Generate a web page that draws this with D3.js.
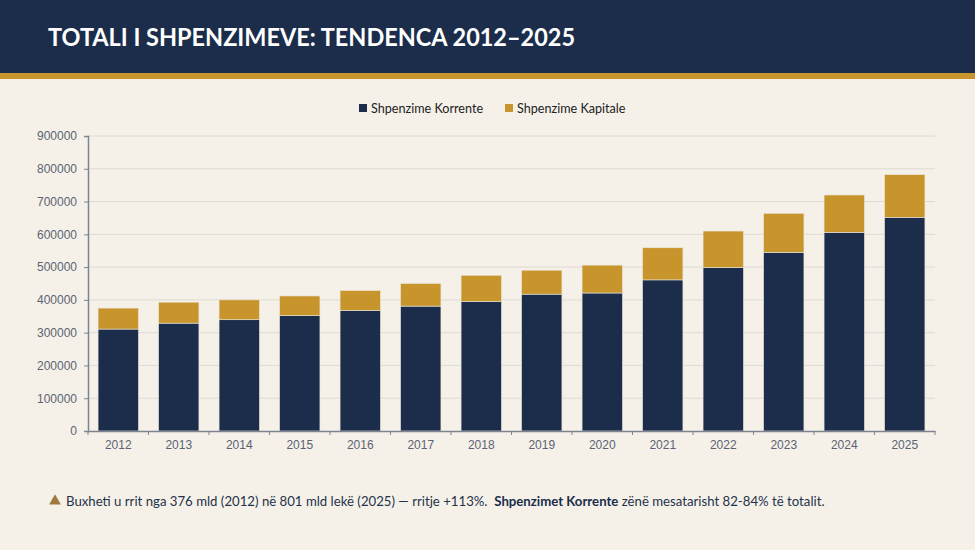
<!DOCTYPE html>
<html>
<head>
<meta charset="utf-8">
<script src="https://cdn.jsdelivr.net/npm/d3@7"></script>
<style>
  body { margin: 0; background: #f5f1e9; }
  svg { display: block; }
</style>
</head>
<body>
<div class="canvas1"></div>
<script>
// data
const years = ["2012","2013","2014","2015","2016","2017","2018","2019","2020","2021","2022","2023","2024","2025"];
const korrente = [311000, 329000, 339500, 352000, 368000, 381000, 395000, 417500, 421000, 461000, 498500, 545000, 606000, 652000];
const kapitale = [64000, 64000, 60500, 60000, 60500, 69000, 80000, 73000, 85000, 98000, 111500, 119000, 114000, 130000];
const yTicks = [0, 100000, 200000, 300000, 400000, 500000, 600000, 700000, 800000, 900000];
const seriesNames = ["Shpenzime Korrente", "Shpenzime Kapitale"];

const W = 975, H = 550;
const margin = { top: 136, right: 40, bottom: 119, left: 88 };
const width = W - margin.left - margin.right;
const height = H - margin.top - margin.bottom;

const navy = "#1b2d4a";
const gold = "#c8952c";

const svg = d3.select(".canvas1").append("svg")
    .attr("width", W)
    .attr("height", H);

svg.append("rect").attr("width", W).attr("height", H).attr("fill", "#f5f1e9");

// header band
svg.append("rect").attr("width", W).attr("height", 73).attr("fill", navy);
svg.append("rect").attr("y", 73).attr("width", W).attr("height", 6).attr("fill", gold);
svg.append("text")
    .attr("x", 48)
    .attr("y", 46)
    .attr("fill", "#fff")
    .style("font-family", "Lato, 'Open Sans', sans-serif")
    .style("font-weight", "bold")
    .style("font-size", "25px")
    .attr("textLength", 527)
    .attr("lengthAdjust", "spacingAndGlyphs")
    .text("TOTALI I SHPENZIMEVE: TENDENCA 2012–2025");

// legend
const legend = svg.append("g").style("font-family", "Lato, 'Open Sans', sans-serif").style("font-size", "12.6px");
const legX = [359, 505];
seriesNames.forEach((name, i) => {
  legend.append("rect")
      .attr("x", legX[i]).attr("y", 104)
      .attr("width", 8).attr("height", 8)
      .attr("fill", i === 0 ? navy : gold);
  legend.append("text")
      .attr("x", legX[i] + 12).attr("y", 112.5)
      .attr("fill", "#222")
      .text(name);
});

const g = svg.append("g")
    .attr("transform", "translate(" + margin.left + "," + margin.top + ")");

// scales
const x = d3.scaleBand().domain(years).range([0, width]).paddingInner(0.333).paddingOuter(0.1665);
const y = d3.scaleLinear().domain([0, 900000]).range([height, 0]);

// gridlines
g.append("g")
  .selectAll("line")
  .data(yTicks.slice(1))
  .join("line")
    .attr("x1", 0).attr("x2", width)
    .attr("y1", d => y(d)).attr("y2", d => y(d))
    .attr("stroke", "#dedad3")
    .attr("stroke-width", 1);

// stacked bars
const table = years.map((yr, i) => ({ year: yr, korrente: korrente[i], kapitale: kapitale[i] }));
const stacked = d3.stack().keys(["korrente", "kapitale"])(table);

g.append("g")
  .selectAll("g")
  .data(stacked)
  .join("g")
    .attr("fill", (d, i) => i === 0 ? navy : gold)
  .selectAll("rect")
  .data(d => d)
  .join("rect")
    .attr("x", d => x(d.data.year))
    .attr("width", x.bandwidth())
    .attr("y", d => y(d[1]))
    .attr("height", d => y(d[0]) - y(d[1]))
    .attr("stroke", "#e9e4da")
    .attr("stroke-width", 0.6);

// Y axis
const yAxis = g.append("g")
    .call(d3.axisLeft(y).tickValues(yTicks).tickFormat(d3.format("d")).tickSize(4).tickPadding(7));
yAxis.select(".domain").attr("stroke", "#7d8391").attr("stroke-width", 1.5);
yAxis.selectAll(".tick line").attr("stroke", "#7d8391");
yAxis.selectAll("text")
    .style("font-family", "Arial, 'Liberation Sans', sans-serif")
    .style("font-size", "12px")
    .attr("fill", "#5b6372");

// X axis with ticks on the category borders
const xAxis = g.append("g")
    .attr("transform", "translate(0," + height + ")")
    .call(d3.axisBottom(x).tickSize(0).tickPadding(9));
xAxis.select(".domain").attr("stroke", "#7d8391").attr("stroke-width", 1.5);
xAxis.selectAll("text")
    .style("font-family", "Arial, 'Liberation Sans', sans-serif")
    .style("font-size", "12px")
    .attr("fill", "#5b6372");
xAxis.selectAll(".border")
  .data(d3.range(years.length + 1))
  .join("line")
    .attr("class", "border")
    .attr("x1", i => i * x.step()).attr("x2", i => i * x.step())
    .attr("y1", 0).attr("y2", 4)
    .attr("stroke", "#7d8391");

// footer note
svg.append("path")
    .attr("d", d3.symbol(d3.symbolTriangle, 60)())
    .attr("transform", "translate(55,501)")
    .attr("fill", "#a07a3c");
const note = svg.append("text")
    .attr("x", 66)
    .attr("y", 506)
    .attr("fill", "#24314a")
    .style("white-space", "pre")
    .style("font-family", "Lato, 'Open Sans', sans-serif")
    .style("font-size", "13.2px");
note.append("tspan").text("Buxheti u rrit nga 376 mld (2012) në 801 mld lekë (2025) — rritje +113%.  ");
note.append("tspan").style("font-weight", "bold").attr("fill", navy).text("Shpenzimet Korrente");
note.append("tspan").text(" zënë mesatarisht 82-84% të totalit.");
</script>
</body>
</html>
